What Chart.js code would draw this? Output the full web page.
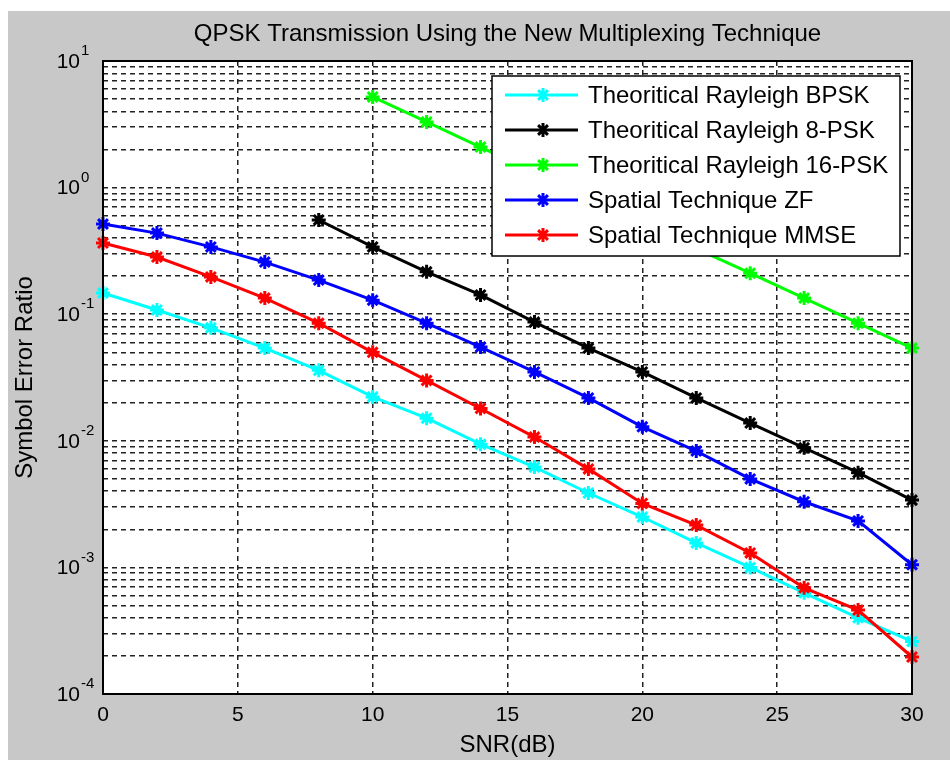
<!DOCTYPE html>
<html>
<head>
<meta charset="utf-8">
<script src="https://cdn.jsdelivr.net/npm/chart.js@4.4.0/dist/chart.umd.min.js"></script>
<style>
  html, body { margin: 0; padding: 0; background: #fff; }
  canvas { display: block; }
</style>
</head>
<body>
<canvas id="serChart" width="950" height="760"></canvas>
<script>
// Datos (SNR en dB, razon de error de simbolo)
const snrDb = [0, 2, 4, 6, 8, 10, 12, 14, 16, 18, 20, 22, 24, 26, 28, 30];

const serBpsk = [0.147, 0.108, 0.078, 0.054, 0.036, 0.0222, 0.0151, 0.0094,
    0.0062, 0.00387, 0.0025, 0.00156, 0.001, 0.00063, 0.0004, 0.00026];
const ser8psk = [null, null, null, null, 0.555, 0.34, 0.216, 0.142,
    0.0867, 0.054, 0.035, 0.0218, 0.0138, 0.0088, 0.0056, 0.0034];
const ser16psk = [null, null, null, null, null, 5.2, 3.3, 2.09,
    1.32, 0.83, 0.52, 0.33, 0.211, 0.134, 0.085, 0.054];
const serZf = [0.515, 0.437, 0.34, 0.258, 0.186, 0.129, 0.085, 0.055,
    0.035, 0.0218, 0.0129, 0.0083, 0.005, 0.0033, 0.00233, 0.00105];
const serMmse = [0.365, 0.283, 0.197, 0.134, 0.085, 0.05, 0.03, 0.018,
    0.0107, 0.006, 0.0032, 0.00216, 0.0013, 0.00069, 0.00046, 0.000196];

const seriesLabels = [
    "Theoritical Rayleigh BPSK",
    "Theoritical Rayleigh 8-PSK",
    "Theoritical Rayleigh 16-PSK",
    "Spatial Technique ZF",
    "Spatial Technique MMSE",
];
const seriesColors = ["#00ffff", "#000000", "#00ff00", "#0000ff", "#ff0000"];

const chartTitle = "QPSK Transmission Using the New Multiplexing Technique";

// Marcas de los ejes
const xTickValues = [0, 5, 10, 15, 20, 25, 30];
const decadeValues = [10, 1, 0.1, 0.01, 0.001, 0.0001];
const decadeExponents = ["1", "0", "-1", "-2", "-3", "-4"];
const minorMultiples = [1, 2, 3, 4, 5, 6, 7, 8, 9];

const FONT = "'Liberation Sans', Arial, sans-serif";

const toPoints = (vals) =>
    snrDb.map((s, i) => ({ x: s, y: vals[i] })).filter((p) => p.y !== null);

const allSeries = [serBpsk, ser8psk, ser16psk, serZf, serMmse];

const datasets = allSeries.map((vals, i) => ({
    label: seriesLabels[i],
    data: toPoints(vals),
    borderColor: seriesColors[i],
    backgroundColor: seriesColors[i],
    borderWidth: 3,
    pointStyle: "star",
    pointRadius: 7,
    pointBorderWidth: 3,
    tension: 0,
    clip: false,
    order: allSeries.length - i,
}));

// Fondo gris de la figura de MATLAB
const figureBackground = {
    id: "figureBackground",
    beforeDraw(chart) {
        const ctx = chart.ctx;
        const a = chart.chartArea;
        ctx.save();
        ctx.fillStyle = "#ffffff";
        ctx.fillRect(0, 0, chart.width, chart.height);
        ctx.fillStyle = "#c8c8c8";
        ctx.fillRect(8, 11, chart.width - 8, chart.height - 11);
        ctx.fillStyle = "#ffffff";
        ctx.fillRect(a.left, a.top, a.right - a.left, a.bottom - a.top);
        // titulo centrado sobre el area de ejes
        ctx.fillStyle = "#000";
        ctx.font = "24px " + FONT;
        ctx.textAlign = "center";
        ctx.textBaseline = "middle";
        ctx.fillText(chartTitle, (a.left + a.right) / 2, 34);
        ctx.restore();
    },
};

// Caja del eje y leyenda dentro del area
const boxAndLegend = {
    id: "boxAndLegend",
    afterDatasetsDraw(chart) {
        const ctx = chart.ctx;
        const a = chart.chartArea;
        ctx.save();
        ctx.strokeStyle = "#000";
        ctx.lineWidth = 2;
        ctx.strokeRect(a.left, a.top, a.right - a.left, a.bottom - a.top);

        const lx = a.right - 420, ly = a.top + 15, lw = 408, lh = 180;
        ctx.fillStyle = "#fff";
        ctx.fillRect(lx, ly, lw, lh);
        ctx.lineWidth = 1.5;
        ctx.strokeRect(lx, ly, lw, lh);

        ctx.font = "24px " + FONT;
        ctx.textBaseline = "middle";
        chart.data.datasets.forEach((ds, i) => {
            const y = ly + 19 + i * 35;
            ctx.strokeStyle = ds.borderColor;
            ctx.lineWidth = 3;
            ctx.beginPath();
            ctx.moveTo(lx + 13, y);
            ctx.lineTo(lx + 86, y);
            ctx.stroke();
            const mx = lx + 51, r = 7;
            ctx.beginPath();
            ctx.moveTo(mx, y - r); ctx.lineTo(mx, y + r);
            ctx.moveTo(mx - r * 0.7, y - r * 0.7); ctx.lineTo(mx + r * 0.7, y + r * 0.7);
            ctx.moveTo(mx - r * 0.7, y + r * 0.7); ctx.lineTo(mx + r * 0.7, y - r * 0.7);
            ctx.stroke();
            ctx.fillStyle = "#000";
            ctx.fillText(ds.label, lx + 96, y + 1);
        });
        ctx.restore();
    },
    afterDraw(chart) {
        // etiquetas 10^n con exponente
        const ctx = chart.ctx;
        const ys = chart.scales.y;
        ctx.save();
        ctx.fillStyle = "#000";
        ctx.textBaseline = "middle";
        decadeValues.forEach((v, i) => {
            const py = ys.getPixelForValue(v);
            ctx.font = "21px " + FONT;
            ctx.textAlign = "right";
            ctx.fillText("10", 80, py + 1);
            ctx.font = "15px " + FONT;
            ctx.textAlign = "left";
            ctx.fillText(decadeExponents[i], 81, py - 10);
        });
        ctx.restore();
    },
};

const gridColor = "#222";

new Chart(document.getElementById("serChart"), {
    type: "line",
    data: { datasets: datasets },
    options: {
        responsive: false,
        animation: false,
        devicePixelRatio: 1,
        layout: { padding: { left: 8, right: 38, top: 61, bottom: 0 } },
        plugins: {
            legend: { display: false },
            tooltip: { enabled: false },
            title: { display: false },
        },
        scales: {
            x: {
                type: "linear",
                min: 0,
                max: 30,
                afterFit: (s) => { s.height = 66; },
                afterBuildTicks: (s) => { s.ticks = xTickValues.map((v) => ({ value: v })); },
                ticks: {
                    color: "#000",
                    font: { family: FONT, size: 21 },
                    padding: 9,
                    maxRotation: 0,
                },
                grid: { color: gridColor, lineWidth: 1.5, drawTicks: false },
                border: { display: false, dash: [5, 4] },
                title: {
                    display: true,
                    text: "SNR(dB)",
                    color: "#000",
                    font: { family: FONT, size: 24 },
                    padding: { top: 0, bottom: 0 },
                },
            },
            y: {
                type: "logarithmic",
                min: 0.0001,
                max: 10,
                afterFit: (s) => { s.width = 95; },
                afterBuildTicks: (s) => {
                    const t = [];
                    decadeValues.slice(1).reverse().forEach((d) => {
                        minorMultiples.forEach((m) => t.push({ value: m * d }));
                    });
                    t.push({ value: decadeValues[0] });
                    s.ticks = t;
                },
                ticks: { display: false },
                grid: { color: gridColor, lineWidth: 1.5, drawTicks: false },
                border: { display: false, dash: [5, 4] },
                title: {
                    display: true,
                    text: "Symbol Error Ratio",
                    color: "#000",
                    font: { family: FONT, size: 24 },
                    padding: { top: 3, bottom: 0 },
                },
            },
        },
    },
    plugins: [figureBackground, boxAndLegend],
});
</script>
</body>
</html>
